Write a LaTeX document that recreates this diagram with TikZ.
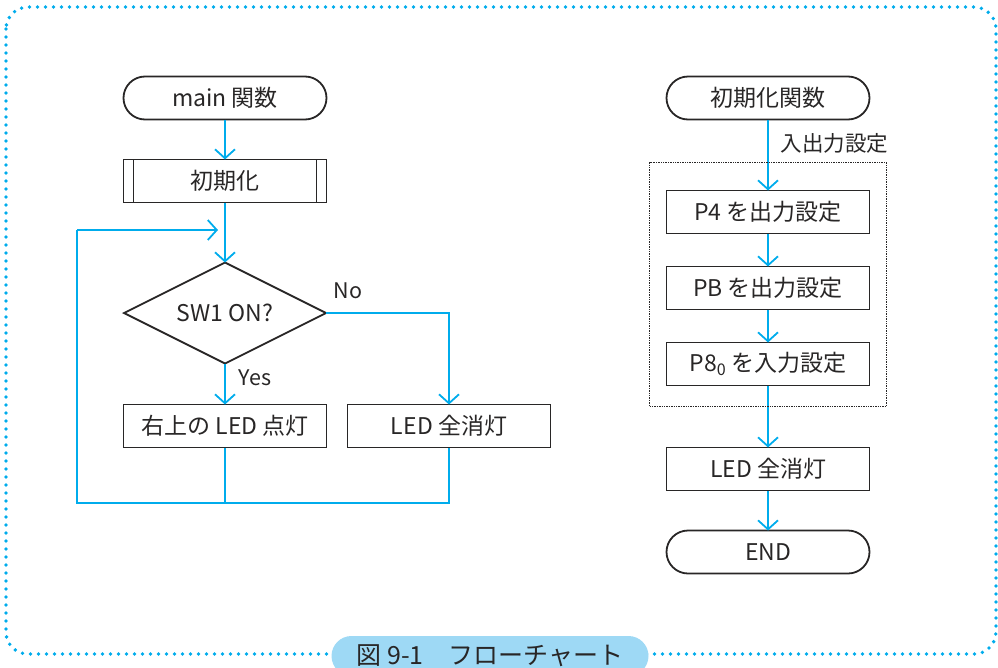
\documentclass[tikz,border=0pt]{standalone}
\usepackage{fontspec}
\setmainfont{Noto Sans CJK JP}
\usetikzlibrary{arrows.meta,positioning,shapes.geometric,fit,calc}

\definecolor{flowblue}{RGB}{0,172,236}
\definecolor{capblue}{RGB}{158,217,245}
\definecolor{inkgray}{RGB}{40,38,38}

\begin{document}
\begin{tikzpicture}[
    x=1pt, y=-1pt,
    node distance=40pt and 21pt,
    every node/.style={text=inkgray, font=\fontsize{23}{27}\selectfont},
    box/.style={draw=inkgray, rectangle, line width=1.8pt, minimum width=203pt, minimum height=43pt, align=center, inner sep=0pt, outer sep=0pt},
    terminal/.style={box, rounded corners=21.5pt},
    subproc/.style={box, path picture={
        \draw[inkgray, line width=1.8pt] ([xshift=10pt]path picture bounding box.north west) -- ([xshift=10pt]path picture bounding box.south west);
        \draw[inkgray, line width=1.8pt] ([xshift=-10pt]path picture bounding box.north east) -- ([xshift=-10pt]path picture bounding box.south east);}},
    decision/.style={draw=inkgray, diamond, line width=1.8pt, aspect=2, minimum width=202pt, minimum height=101pt, inner sep=0pt, outer sep=0pt},
    arrow/.style={-{Straight Barb[length=9pt, width=20pt]}, line width=1.8pt, draw=flowblue},
    line/.style={line width=1.8pt, draw=flowblue},
    label_node/.style={font=\fontsize{21.5}{25}\selectfont, inner sep=2pt}
]
    \clip (0,0) rectangle (998,667);

    % Frame
    \draw[flowblue, line width=3.8pt, line cap=round, dash pattern=on 0pt off 8pt, rounded corners=22pt]
        (6,7) rectangle (996,654);

    % main loop
    \node[terminal] (main) at (225,98) {main 関数};
    \node[subproc, below=of main] (init) {初期化};
    \node[decision, below=60pt of init] (sw) {SW1 ON?};
    \node[box, below=41pt of sw] (ledon) {右上の LED 点灯};
    \node[box, right=21pt of ledon] (ledoff) {LED 全消灯};

    \coordinate (loopin) at (225,230);
    \coordinate (looptop) at (77,230);
    \coordinate (loopbot) at (77,503);
    \coordinate (merge) at (225,503);

    \draw[arrow] (main) -- (init);
    \draw[arrow] (init) -- (sw);
    \draw[arrow] (sw) -- (ledon) node[label_node, pos=0.35, right=11pt] {Yes};
    \draw[arrow] (sw.east) -| (ledoff.north) node[label_node, pos=0.09, above=11pt] {No};
    \draw[line] (ledon.south) -- (merge);
    \draw[line] (ledoff.south) |- (loopbot) -- (looptop);
    \draw[arrow, shorten >=7pt] (looptop) -- (loopin);

    % init function
    \node[terminal] (fn) at (768,98) {初期化関数};
    \node[box, below=71pt of fn] (p4) {P4 を出力設定};
    \node[box, below=33pt of p4] (pb) {PB を出力設定};
    \node[box, below=33pt of pb] (p8) {P8\textsubscript{0} を入力設定};
    \node[box, below=62pt of p8] (ledall) {LED 全消灯};
    \node[terminal, below=of ledall] (fin) {END};

    \draw[arrow] (fn) -- (p4) node[label_node, pos=0.33, right=10pt] {入出力設定};
    \draw[arrow] (p4) -- (pb);
    \draw[arrow] (pb) -- (p8);
    \draw[arrow] (p8) -- (ledall);
    \draw[arrow] (ledall) -- (fin);

    % Grouping for port setup
    \node[draw=inkgray, densely dotted, line width=1.4pt, inner xsep=17pt, inner ysep=24.5pt, yshift=3.5pt, fit=(p4)(p8)] (ports) {};

    % Caption
    \node[fill=capblue, rounded corners=20pt, minimum width=317pt, minimum height=40pt, font=\fontsize{25}{29}\selectfont] (cap) at (490,656) {図 9-1\hspace{1em}フローチャート};
\end{tikzpicture}
\end{document}
